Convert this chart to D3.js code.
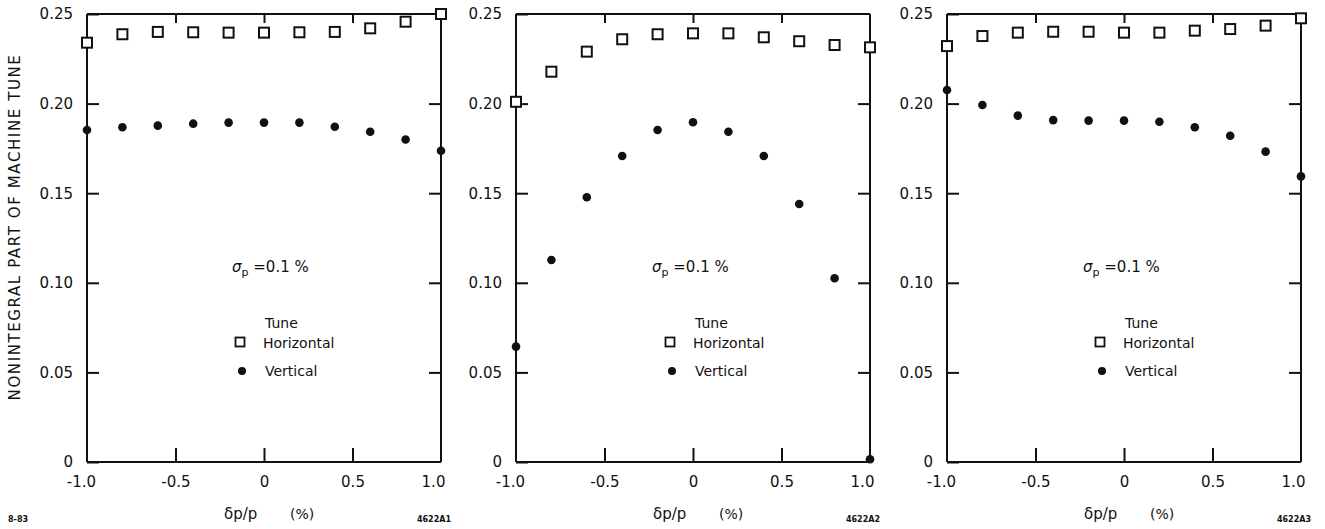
<!DOCTYPE html>
<html>
<head>
<meta charset="utf-8">
<script src="https://cdn.jsdelivr.net/npm/d3@7"></script>
<style>
  body { margin: 0; background: #fff; }
  svg { font-family: "DejaVu Sans", "Liberation Sans", sans-serif; }
  .axis path, .axis line { stroke: #111; stroke-width: 2; }
  .axis text { font-size: 15px; fill: #111; font-family: "DejaVu Sans", sans-serif; }
</style>
</head>
<body>
<svg width="1325" height="529"></svg>
<script>
// momentum deviation (%)
var dp = [-1.0, -0.8, -0.6, -0.4, -0.2, 0, 0.2, 0.4, 0.6, 0.8, 1.0];

// panel 1 (4622A1)
var horiz1 = [0.234, 0.2387, 0.240, 0.2398, 0.2396, 0.2396, 0.2398, 0.240, 0.242, 0.2457, 0.250];
var vert1  = [0.1853, 0.1868, 0.1877, 0.1888, 0.1894, 0.1894, 0.1894, 0.1871, 0.1843, 0.180, 0.1737];
// panel 2 (4622A2)
var horiz2 = [0.201, 0.2178, 0.229, 0.2359, 0.2387, 0.2392, 0.2392, 0.237, 0.2348, 0.2327, 0.2314];
var vert2  = [0.0644, 0.1127, 0.1477, 0.1708, 0.1853, 0.1896, 0.1843, 0.1708, 0.144, 0.1025, 0.0015];
// panel 3 (4622A3)
var horiz3 = [0.2321, 0.2377, 0.2396, 0.2401, 0.2401, 0.2396, 0.2396, 0.2407, 0.2416, 0.2435, 0.2476];
var vert3  = [0.2076, 0.1992, 0.1933, 0.1908, 0.1905, 0.1905, 0.1899, 0.1868, 0.1821, 0.1732, 0.1594];

var yTicks = [0, 0.05, 0.10, 0.15, 0.20, 0.25];
var xTicks = [-1.0, -0.5, 0, 0.5, 1.0];
var codes = ["4622A1", "4622A2", "4622A3"];

var panels = [
  { left: 87,  horiz: horiz1, vert: vert1, code: codes[0], legendX: 240, noteX: 232 },
  { left: 516, horiz: horiz2, vert: vert2, code: codes[1], legendX: 670, noteX: 652 },
  { left: 947, horiz: horiz3, vert: vert3, code: codes[2], legendX: 1100, noteX: 1083 }
];

var plotW = 354, plotTop = 14, plotBottom = 462;

var svg = d3.select("svg");

function yFmt(d) { return d === 0 ? "0" : d3.format(".2f")(d); }
function xFmt(d) { return d === 0 ? "0" : (d < 0 ? "-" : "") + d3.format(".1f")(Math.abs(d)); }

panels.forEach(function(p) {
  var h = plotBottom - plotTop;
  var x = d3.scaleLinear().domain([-1, 1]).range([0, plotW]);
  var y = d3.scaleLinear().domain([0, 0.25]).range([h, 0]);

  var g = svg.append("g")
      .attr("transform", "translate(" + p.left + "," + plotTop + ")");

  // frame: left + bottom labelled, top + right inward ticks
  g.append("g")
      .attr("class", "axis")
      .call(d3.axisLeft(y).tickValues(yTicks).tickSize(-12).tickPadding(14).tickFormat(yFmt))
      .call(function(a) { a.select(".domain").attr("d", "M0,0V" + h); });

  g.append("g")
      .attr("class", "axis")
      .attr("transform", "translate(" + plotW + ",0)")
      .call(d3.axisRight(y).tickValues([0.05, 0.10, 0.15, 0.20]).tickSize(-12).tickFormat(""))
      .call(function(a) { a.select(".domain").attr("d", "M0,0V" + h); });

  g.append("g")
      .attr("class", "axis")
      .attr("transform", "translate(0," + h + ")")
      .call(d3.axisBottom(x).tickValues(xTicks).tickSize(-14).tickPadding(14).tickFormat(xFmt))
      .call(function(a) {
        a.select(".domain").attr("d", "M0,0H" + plotW);
        a.selectAll(".tick line").filter(function(d) { return Math.abs(d) === 1; }).remove();
        a.selectAll(".tick text").attr("dx", function(d) { return d === -1 ? -6 : (d === 1 ? -8 : 0); });
      });

  g.append("g")
      .attr("class", "axis")
      .call(d3.axisTop(x).tickValues([-0.5, 0, 0.5]).tickSize(-9).tickFormat(""))
      .call(function(a) { a.select(".domain").attr("d", "M0,0H" + plotW); });

  // vertical tune (filled dots)
  g.selectAll(".vdot")
    .data(p.vert)
    .enter().append("circle")
      .attr("class", "vdot")
      .attr("cx", function(d, i) { return x(dp[i]); })
      .attr("cy", function(d) { return y(d); })
      .attr("r", 4.3)
      .style("fill", "#111");

  // horizontal tune (open squares)
  g.selectAll(".hsq")
    .data(p.horiz)
    .enter().append("rect")
      .attr("class", "hsq")
      .attr("x", function(d, i) { return x(dp[i]) - 5; })
      .attr("y", function(d) { return y(d) - 5; })
      .attr("width", 10)
      .attr("height", 10)
      .style("fill", "#fff")
      .style("stroke", "#111")
      .style("stroke-width", 2);

  // sigma annotation
  var note = svg.append("text")
      .attr("x", p.noteX)
      .attr("y", 272)
      .style("font-size", "15px")
      .style("fill", "#111");
  note.append("tspan").style("font-style", "italic").text("σ");
  note.append("tspan").attr("dy", 4).style("font-size", "11px").text("p");
  note.append("tspan").attr("dy", -4).text(" =0.1 %");

  // legend
  svg.append("text")
      .attr("x", p.legendX + 25)
      .attr("y", 328)
      .style("font-size", "14px")
      .style("fill", "#111")
      .text("Tune");
  svg.append("rect")
      .attr("x", p.legendX - 4.5)
      .attr("y", 342 - 4.5)
      .attr("width", 9)
      .attr("height", 9)
      .style("fill", "#fff")
      .style("stroke", "#111")
      .style("stroke-width", 1.8);
  svg.append("text")
      .attr("x", p.legendX + 23)
      .attr("y", 348)
      .style("font-size", "14px")
      .style("fill", "#111")
      .text("Horizontal");
  svg.append("circle")
      .attr("cx", p.legendX + 2)
      .attr("cy", 371)
      .attr("r", 4)
      .style("fill", "#111");
  svg.append("text")
      .attr("x", p.legendX + 25)
      .attr("y", 376)
      .style("font-size", "14px")
      .style("fill", "#111")
      .text("Vertical");

  // x axis title
  svg.append("text")
      .attr("x", p.left + plotW / 2 - 40)
      .attr("y", 519)
      .style("font-size", "15px")
      .style("fill", "#111")
      .text("δp/p");
  svg.append("text")
      .attr("x", p.left + plotW / 2 + 26)
      .attr("y", 519)
      .style("font-size", "14px")
      .style("fill", "#111")
      .text("(%)");

  // figure code
  svg.append("text")
      .attr("x", p.left + plotW + 10)
      .attr("y", 522)
      .attr("text-anchor", "end")
      .style("font-size", "8px")
      .style("font-weight", "bold")
      .style("fill", "#111")
      .text(p.code);
});

// y axis title
svg.append("text")
    .attr("transform", "translate(20,227) rotate(-90)")
    .attr("text-anchor", "middle")
    .style("font-size", "15px")
    .style("letter-spacing", "1.6px")
    .style("fill", "#111")
    .text("NONINTEGRAL  PART OF  MACHINE TUNE");

svg.append("text")
    .attr("x", 8)
    .attr("y", 522)
    .style("font-size", "8px")
    .style("font-weight", "bold")
    .style("fill", "#111")
    .text("8-83");
</script>
</body>
</html>
